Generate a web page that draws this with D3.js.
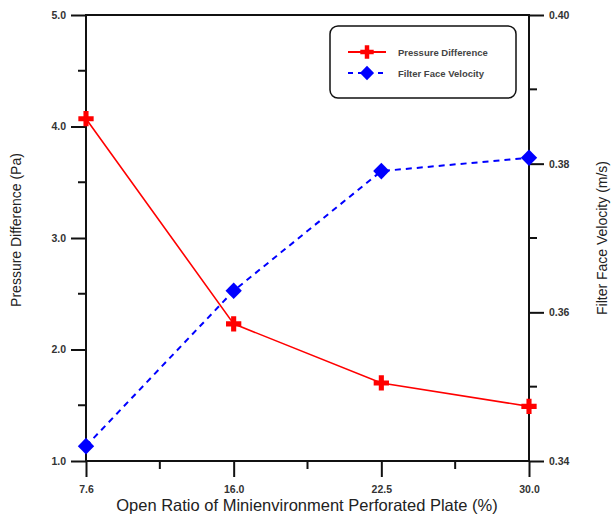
<!DOCTYPE html>
<html>
<head>
<meta charset="utf-8">
<script src="https://cdn.jsdelivr.net/npm/d3@7"></script>
<style>
  body { margin: 0; background: #fff; }
  text { font-family: "Liberation Sans", Arial, sans-serif; fill: #222; }
  .tick text { font-size: 10.5px; font-weight: bold; fill: #333; }
</style>
</head>
<body>
<script>
var w = 613
var h = 519

// data
var ratios = ["7.6", "16.0", "22.5", "30.0"]
var pressure = [4.07, 2.23, 1.70, 1.49]
var velocity = [0.342, 0.3629, 0.379, 0.3808]
var leftTicks = [1.0, 2.0, 3.0, 4.0, 5.0]
var rightTicks = [0.34, 0.36, 0.38, 0.40]

var m = {left: 86, right: 84, top: 15, bottom: 58}

var svg = d3.select("body")
  .append("svg")
  .attr("width", w)
  .attr("height", h)

var x = d3.scalePoint()
  .domain(ratios)
  .range([m.left, w - m.right])

var yL = d3.scaleLinear()
  .domain([1, 5])
  .range([h - m.bottom, m.top])

var yR = d3.scaleLinear()
  .domain([0.34, 0.40])
  .range([h - m.bottom, m.top])

var x0 = m.left, x1 = w - m.right, yb = h - m.bottom, yt = m.top

// minor ticks
var step = x.step()
var minorX = d3.range(ratios.length - 1).map(function(i) { return x(ratios[i]) + step / 2 })
svg.selectAll(".mx").data(minorX).enter().append("line")
  .attr("x1", d => d).attr("x2", d => d)
  .attr("y1", yb).attr("y2", yb + 8)
  .attr("stroke", "#111").attr("stroke-width", 2)

svg.selectAll(".ml").data([1.5, 2.5, 3.5, 4.5]).enter().append("line")
  .attr("x1", x0).attr("x2", x0 - 8)
  .attr("y1", d => yL(d)).attr("y2", d => yL(d))
  .attr("stroke", "#111").attr("stroke-width", 2)

svg.selectAll(".mr").data([0.35, 0.37, 0.39]).enter().append("line")
  .attr("x1", x1).attr("x2", x1 + 8)
  .attr("y1", d => yR(d)).attr("y2", d => yR(d))
  .attr("stroke", "#111").attr("stroke-width", 2)

// axes
var gx = svg.append("g")
  .attr("transform", "translate(0," + yb + ")")
  .call(d3.axisBottom(x).tickSize(16).tickPadding(9))

var gl = svg.append("g")
  .attr("transform", "translate(" + x0 + ",0)")
  .call(d3.axisLeft(yL).tickValues(leftTicks).tickFormat(d3.format(".1f")).tickSize(15).tickPadding(5))

var gr = svg.append("g")
  .attr("transform", "translate(" + x1 + ",0)")
  .call(d3.axisRight(yR).tickValues(rightTicks).tickFormat(d3.format(".2f")).tickSize(15).tickPadding(5))

;[gx, gl, gr].forEach(function(g) {
  g.select(".domain").remove()
  g.selectAll(".tick line").attr("stroke", "#111").attr("stroke-width", 2)
})

// frame
svg.append("rect")
  .attr("x", x0).attr("y", yt)
  .attr("width", x1 - x0).attr("height", yb - yt)
  .attr("fill", "none").attr("stroke", "#111").attr("stroke-width", 2)

// lines
var lineP = d3.line().x((d, i) => x(ratios[i])).y(d => yL(d))
var lineV = d3.line().x((d, i) => x(ratios[i])).y(d => yR(d))

svg.append("path")
  .datum(pressure)
  .attr("d", lineP)
  .attr("fill", "none").attr("stroke", "#ff0000").attr("stroke-width", 1.6)

svg.append("path")
  .datum(velocity)
  .attr("d", lineV)
  .attr("fill", "none").attr("stroke", "#0000ff").attr("stroke-width", 2)
  .attr("stroke-dasharray", "6,5")

var plus = d3.symbol().type(d3.symbolCross).size(130)
var diamond = d3.symbol().type(d3.symbolDiamond).size(80)

svg.selectAll(".pp").data(pressure).enter().append("path")
  .attr("d", plus)
  .attr("transform", (d, i) => "translate(" + x(ratios[i]) + "," + yL(d) + ")")
  .attr("fill", "#ff0000")

svg.selectAll(".pv").data(velocity).enter().append("path")
  .attr("d", diamond)
  .attr("transform", (d, i) => "translate(" + x(ratios[i]) + "," + yR(d) + ") scale(1.7,1)")
  .attr("fill", "#0000ff")

// axis titles
svg.append("text")
  .attr("transform", "translate(21,230) rotate(-90)")
  .attr("text-anchor", "middle")
  .style("font-size", "14px")
  .text("Pressure Difference (Pa)")

svg.append("text")
  .attr("transform", "translate(607,238) rotate(-90)")
  .attr("text-anchor", "middle")
  .style("font-size", "14px")
  .text("Filter Face Velocity (m/s)")

svg.append("text")
  .attr("x", 307).attr("y", 511)
  .attr("text-anchor", "middle")
  .style("font-size", "16.5px")
  .text("Open Ratio of Minienvironment Perforated Plate (%)")

// legend
var lg = svg.append("g").attr("transform", "translate(330,26)")
lg.append("rect")
  .attr("width", 186).attr("height", 72)
  .attr("rx", 8)
  .attr("fill", "#fff").attr("stroke", "#111").attr("stroke-width", 1.5)

var items = [
  {name: "Pressure Difference", color: "#ff0000", sym: plus.size(100), sx: 1, dash: null, y: 26},
  {name: "Filter Face Velocity", color: "#0000ff", sym: d3.symbol().type(d3.symbolDiamond).size(60), sx: 1.7, dash: "5,5", y: 47}
]
items.forEach(function(it) {
  lg.append("line")
    .attr("x1", 18).attr("x2", 56)
    .attr("y1", it.y).attr("y2", it.y)
    .attr("stroke", it.color).attr("stroke-width", 2)
    .attr("stroke-dasharray", it.dash)
  lg.append("path")
    .attr("d", it.sym)
    .attr("transform", "translate(37," + it.y + ") scale(" + it.sx + ",1)")
    .attr("fill", it.color)
  lg.append("text")
    .attr("x", 68).attr("y", it.y + 3.5)
    .style("font-size", "9.5px").style("font-weight", "bold").style("fill", "#444")
    .text(it.name)
})
</script>
</body>
</html>
